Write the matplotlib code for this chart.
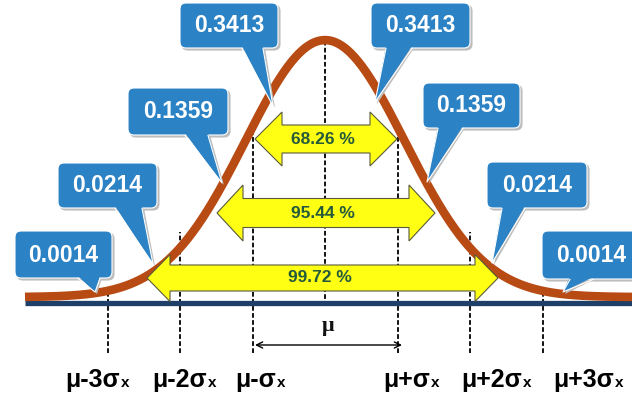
import numpy as np
import matplotlib
matplotlib.use("Agg")
import matplotlib.pyplot as plt
from matplotlib.patches import Polygon, FancyBboxPatch

# ---------------- data ----------------
sigma_k = [-3, -2, -1, 0, 1, 2, 3]
probs_left = [0.0014, 0.0214, 0.1359, 0.3413]     # outer -> inner
probs_right = [0.3413, 0.1359, 0.0214, 0.0014]    # inner -> outer
interval_pct = [68.26, 95.44, 99.72]
bottom_main = ["μ-3σ", "μ-2σ", "μ-σ", "μ+σ", "μ+2σ", "μ+3σ"]
bottom_sub = ["x", "x", "x", "x", "x", "x"]
curve_scale = 1.1     # visual width of the bell relative to sigma spacing
curve_floor = 0.023

# ---------------- layout helpers (pixel -> data) ----------------
W, H = 632, 403
S, CX, BY, V = 72.5, 325.0, 303.0, 257.0
def X(px): return (px - CX) / S
def Y(py): return (BY - py) / V
def DX(px): return px / S
def DY(py): return py / V

fig = plt.figure(figsize=(W / 100, H / 100), dpi=100)
ax = fig.add_axes([0, 0, 1, 1])
ax.set_xlim(X(0), X(W))
ax.set_ylim(Y(H), Y(0))
ax.axis("off")

def curve(x):
    x = np.asarray(x, dtype=float)
    return curve_floor + np.exp(-x ** 2 / (2 * curve_scale ** 2))

# baseline
ax.plot([X(25), X(W)], [0, 0], color="#1D3F68", lw=3.8, solid_capstyle="butt", zorder=2)

# bell curve
xs = np.linspace(X(25), X(W), 500)
ax.plot(xs, curve(xs), color="#B84A13", lw=6.2, solid_capstyle="butt", zorder=3)

# dashed sigma lines
for k in sigma_k:
    top = float(curve(k)) + (0.06 if abs(k) == 2 else 0.0)
    bottom = Y(306) if k == 0 else Y(353)
    ax.plot([k, k], [bottom, top], color="black", lw=1.3,
            linestyle=(0, (2.6, 1.3)), zorder=1)

# yellow double arrows
arrow_geo = [  # left tip px, right tip px, center y px, head len, head half, body half
    (255, 397, 139, 27, 27, 14),
    (217, 435, 213, 26, 28, 14.5),
    (147, 498, 278, 23, 23.5, 13),
]
text_x = [323, 323, 320]
for (xl, xr, cy, hl, hh, bh), pct, tx in zip(arrow_geo, interval_pct, text_x):
    pts = [(xl, cy), (xl + hl, cy - hh), (xl + hl, cy - bh), (xr - hl, cy - bh),
           (xr - hl, cy - hh), (xr, cy), (xr - hl, cy + hh), (xr - hl, cy + bh),
           (xl + hl, cy + bh), (xl + hl, cy + hh)]
    poly = Polygon([(X(a), Y(b)) for a, b in pts], closed=True,
                   facecolor="#FFFF14", edgecolor="#5A5A3A", lw=0.8, zorder=4)
    ax.add_patch(poly)
    ax.text(X(tx), Y(cy), f"{pct:.2f} %", ha="center", va="center",
            fontsize=12.5, fontweight="bold", color="#255A3A",
            family=["Liberation Sans", "DejaVu Sans"], zorder=5)

# callouts: box (x0,y0,x1,y1), pointer base (xa,xb), tip (tx,ty)
callouts = [
    ((15, 231, 112, 278), (78, 100), (95, 292), probs_left[0]),
    ((58, 163, 157, 208), (115, 142), (153, 264), probs_left[1]),
    ((128, 88, 228, 135), (185, 208), (222, 183), probs_left[2]),
    ((180, 3, 278, 48), (242, 263), (273, 106), probs_left[3]),
    ((371, 3, 470, 48), (386, 412), (375, 102), probs_right[0]),
    ((423, 83, 520, 128), (438, 463), (427, 182), probs_right[1]),
    ((487, 162, 587, 208), (502, 525), (492, 263), probs_right[2]),
    ((542, 231, 640, 279), (570, 593), (563, 292), probs_right[3]),
]
blue = "#2B82C5"
shadow = "#BDBDBD"
rad = 6
for off, col, z in [((2, 2), shadow, 6), ((0, 0), blue, 7)]:
    for (x0, y0, x1, y1), (xa, xb), (tx, ty), p in callouts:
        ox, oy = off
        box = FancyBboxPatch((X(x0 + ox), Y(y1 + oy)), DX(x1 - x0), DY(y1 - y0),
                             boxstyle=f"round,pad=0,rounding_size={DX(rad)}",
                             mutation_aspect=S / V,
                             facecolor=col, edgecolor="white" if col == blue else col,
                             lw=0.8, zorder=z)
        ax.add_patch(box)
        tri = Polygon([(X(xa + ox), Y(y1 - 2 + oy)), (X(xb + ox), Y(y1 - 2 + oy)),
                       (X(tx + ox), Y(ty + oy))], closed=True,
                      facecolor=col, edgecolor="none", zorder=z)
        ax.add_patch(tri)
        if col == blue:
            ax.plot([X(xa), X(tx), X(xb)], [Y(y1 + 0.4), Y(ty), Y(y1 + 0.4)],
                    color="white", lw=0.8, zorder=z)
            cxp = (x0 + x1) / 2 if x1 <= W else (x0 + W + 8) / 2
            ax.text(X(cxp), Y((y0 + y1) / 2 + 0.5), f"{p:.4f}",
                    ha="center", va="center", fontsize=16.5, fontweight="bold",
                    color="white", family=["Liberation Sans", "DejaVu Sans"],
                    zorder=z + 1)

# mu label and double arrow
ax.text(X(328), Y(326), "μ", ha="center", va="center", fontsize=16,
        fontweight="bold", family=["Liberation Serif", "DejaVu Serif"],
        color="#111111", zorder=5)
ax.annotate("", xy=(X(402), Y(345)), xytext=(X(255), Y(345)),
            arrowprops=dict(arrowstyle="<->", lw=1.0, color="black",
                            mutation_scale=11, shrinkA=0, shrinkB=0), zorder=5)

# bottom labels
label_end_px = [120, 207, 276, 430, 522, 614]
for end, main, sub in zip(label_end_px, bottom_main, bottom_sub):
    ax.text(X(end), Y(387), main, ha="right", va="baseline", fontsize=18,
            fontweight="bold", color="black",
            family=["Liberation Sans", "DejaVu Sans"])
    ax.text(X(end + 1), Y(387), sub, ha="left", va="baseline", fontsize=11,
            fontweight="bold", color="black",
            family=["Liberation Sans", "DejaVu Sans"])

fig.savefig("out.png", dpi=100, facecolor="white")
